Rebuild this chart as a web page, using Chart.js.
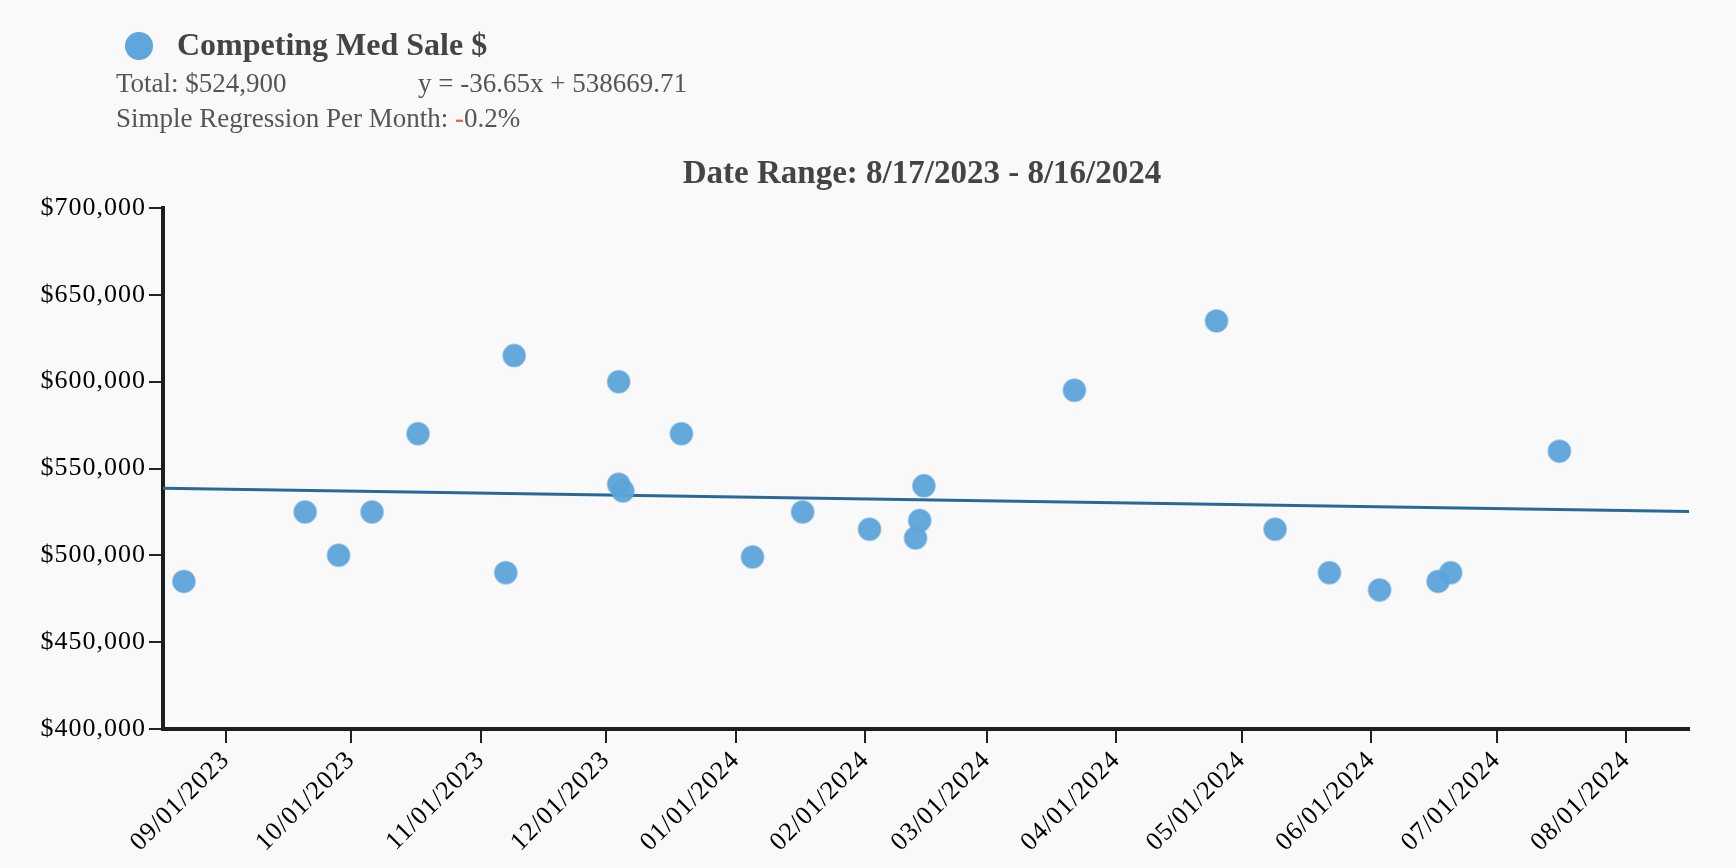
<!DOCTYPE html>
<html>
<head>
<meta charset="utf-8">
<script src="https://cdn.jsdelivr.net/npm/chart.js@4.4.1/dist/chart.umd.min.js"></script>
<style>
  html, body { margin: 0; padding: 0; background: #f9f9f9; }
  #wrap { position: relative; width: 1736px; height: 868px; font-family: "Liberation Serif", "Times New Roman", serif; }
  #chart { position: absolute; left: 0; top: 0; }
  .txt { position: absolute; white-space: nowrap; line-height: 1; }
  #dot { position: absolute; left: 125px; top: 32px; width: 28px; height: 28px; border-radius: 50%; background: #5fa6dc; }
  #legendText { left: 177px; top: 28px; font-size: 32px; font-weight: bold; color: #444; }
  #total { left: 116px; top: 70px; font-size: 27px; color: #555; }
  #equation { left: 418px; top: 70px; font-size: 27px; color: #555; }
  #perMonth { left: 116px; top: 105px; font-size: 27px; color: #555; }
  #perMonth .neg { color: #e5645c; font-weight: bold; }
  #title { left: 922px; top: 156px; font-size: 33px; font-weight: bold; color: #444; transform: translateX(-50%); }
</style>
</head>
<body>
<div id="wrap">
  <canvas id="chart" width="1736" height="868"></canvas>
  <div id="dot"></div>
  <div class="txt" id="legendText">Competing Med Sale $</div>
  <div class="txt" id="total">Total: $524,900</div>
  <div class="txt" id="equation">y = -36.65x + 538669.71</div>
  <div class="txt" id="perMonth">Simple Regression Per Month: <span class="neg">-</span>0.2%</div>
  <div class="txt" id="title">Date Range: 8/17/2023 - 8/16/2024</div>
</div>
<script>
// sale dates and prices
var saleDates = ['2023-08-22', '2023-09-20', '2023-09-28', '2023-10-06', '2023-10-17',
                 '2023-11-07', '2023-11-09', '2023-12-04', '2023-12-04', '2023-12-05',
                 '2023-12-19', '2024-01-05', '2024-01-17', '2024-02-02', '2024-02-13',
                 '2024-02-14', '2024-02-15', '2024-03-22', '2024-04-25', '2024-05-09',
                 '2024-05-22', '2024-06-03', '2024-06-17', '2024-06-20', '2024-07-16'];
var saleValues = [485000, 525000, 500000, 525000, 570000,
                  490000, 615000, 600000, 541000, 537000,
                  570000, 499000, 524900, 515000, 510000,
                  520000, 540000, 595000, 635000, 515000,
                  490000, 480000, 485000, 490000, 560000];
var monthTicks = ['2023-09-01', '2023-10-01', '2023-11-01', '2023-12-01', '2024-01-01', '2024-02-01',
                  '2024-03-01', '2024-04-01', '2024-05-01', '2024-06-01', '2024-07-01', '2024-08-01'];
var rangeStart = '2023-08-17';
var rangeEnd = '2024-08-16';
// regression from the label: y = slope * days + intercept
var slope = -36.65;
var intercept = 538669.71;

function toUTC(s) {
    var p = s.split('-');
    return Date.UTC(+p[0], +p[1] - 1, +p[2]);
}
var startMs = toUTC(rangeStart);
function dayOf(s) {
    return (toUTC(s) - startMs) / 86400000;
}
function pad(n) {
    return n < 10 ? '0' + n : '' + n;
}
function dayLabel(d) {
    var dt = new Date(startMs + d * 86400000);
    return pad(dt.getUTCMonth() + 1) + '/' + pad(dt.getUTCDate()) + '/' + dt.getUTCFullYear();
}

var lastDay = dayOf(rangeEnd);
var points = saleDates.map(function (d, i) {
    return { x: dayOf(d), y: saleValues[i] };
});
var fitLine = [
    { x: 0, y: intercept },
    { x: lastDay, y: intercept + slope * lastDay }
];

var spacing = {
    id: 'spacing',
    beforeLayout: function (chart) { chart.ctx.letterSpacing = '1px'; },
    beforeDraw: function (chart) { chart.ctx.letterSpacing = '1px'; }
};

var tickFont = { family: 'Liberation Serif', size: 26 };

var ctx = document.getElementById('chart').getContext('2d');
var chart = new Chart(ctx, {
    type: 'scatter',
    data: {
        datasets: [{
            type: 'line',
            label: 'Regression',
            data: fitLine,
            borderColor: '#2a6898',
            borderWidth: 3,
            pointRadius: 0,
            fill: false,
            order: 2
        }, {
            label: 'Competing Med Sale $',
            data: points,
            backgroundColor: 'rgba(93,164,218,0.95)',
            borderColor: 'rgba(93,164,218,0.55)',
            borderWidth: 2,
            pointRadius: 11,
            order: 1
        }]
    },
    options: {
        responsive: false,
        animation: false,
        devicePixelRatio: 1,
        layout: { padding: { top: 208, left: 0, right: 47, bottom: 0 } },
        plugins: {
            legend: { display: false },
            tooltip: { enabled: false },
            title: { display: false }
        },
        scales: {
            x: {
                type: 'linear',
                min: 0,
                max: lastDay,
                afterBuildTicks: function (scale) {
                    scale.ticks = monthTicks.map(function (m) { return { value: dayOf(m) }; });
                },
                afterFit: function (scale) { scale.height = 139; },
                ticks: {
                    autoSkip: false,
                    minRotation: 45,
                    maxRotation: 45,
                    padding: 2,
                    color: '#000',
                    font: tickFont,
                    callback: function (v) { return dayLabel(v); }
                },
                grid: { drawOnChartArea: false, drawTicks: true, tickLength: 14, color: '#222', lineWidth: 2 },
                border: { display: true, color: '#1e1e1e', width: 4 }
            },
            y: {
                min: 400000,
                max: 700000,
                afterFit: function (scale) { scale.width = 163; },
                ticks: {
                    stepSize: 50000,
                    padding: 3,
                    color: '#000',
                    font: tickFont,
                    callback: function (v) { return '$' + v.toLocaleString('en-US'); }
                },
                grid: { drawOnChartArea: false, drawTicks: true, tickLength: 14, color: '#222', lineWidth: 2 },
                border: { display: true, color: '#1e1e1e', width: 4 }
            }
        }
    },
    plugins: [spacing]
});
</script>
</body>
</html>
